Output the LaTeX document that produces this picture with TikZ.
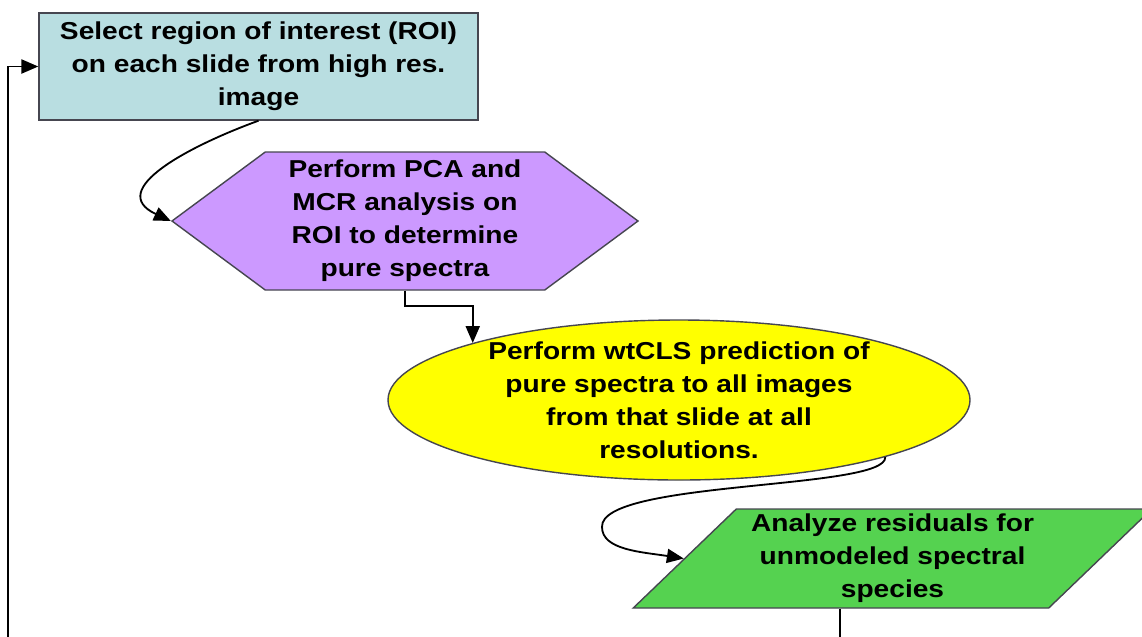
\documentclass[tikz,border=0pt]{standalone}
\usepackage{fontspec}
\newfontfamily\flowfont[FakeStretch=1.15]{Liberation Sans}
\usepackage{tikz}
\usetikzlibrary{arrows.meta,shapes.geometric,shapes.symbols,positioning}
\definecolor{roiblue}{RGB}{185,222,225}
\definecolor{pcapurple}{RGB}{204,153,255}
\definecolor{clsyellow}{RGB}{255,255,0}
\definecolor{resgreen}{RGB}{85,210,80}
\definecolor{rimgray}{RGB}{70,70,80}

\begin{document}
\begin{tikzpicture}[
	txt/.style={font=\flowfont\bfseries\fontsize{17.4pt}{23.5pt}\selectfont, align=center, text=black},
	box/.style={draw=rimgray, line width=1pt, inner sep=0pt},
	link/.style={line width=1.3pt, -{Triangle[length=12pt,width=10pt]}}]
	\useasboundingbox (0,0) rectangle (28.55,-15.9);
	\node[box, txt, fill=roiblue, minimum width=10.975cm, minimum height=2.675cm] (roi) at (6.4625,-1.6625)
		{Select region of interest (ROI)\\on each slide from high res.\\image};
	\node[box, fill=pcapurple, signal, signal to=west and east, signal pointer angle=73,
		minimum width=11.65cm, minimum height=3.45cm,
		label={[txt]center:{Perform PCA and\\MCR analysis on\\ROI to determine\\pure spectra}}] (pca) at (10.125,-5.525) {};
	\node[box, fill=clsyellow, ellipse, minimum width=14.55cm, minimum height=4cm,
		label={[txt]center:{Perform wtCLS prediction of\\pure spectra to all images\\from that slide at all\\resolutions.}}] (wtcls) at (16.975,-10) {};
	\node[box, txt, fill=resgreen, trapezium, trapezium left angle=43.6, trapezium right angle=136.4,
		trapezium stretches=true, minimum width=12.975cm, minimum height=2.475cm] (resid) at (22.3125,-13.9625)
		{Analyze residuals for\\unmodeled spectral\\species};
	\coordinate (swing) at (15.05,-13.175);
	\coordinate (back) at (0.2,-16.6);
	\draw[link] (roi.south) to[out=200,in=155,looseness=1.4] (pca.west);
	\draw[link] (pca.south) -- ++(0,-0.375) -| (wtcls.north west);
	\draw[link] (wtcls.south east) .. controls +(0.05,-0.825) and +(-0.05,1.175) .. (swing)
		.. controls +(0,-0.575) and +(-1.05,0.1625) .. (resid.left side);
	\draw[link] (resid.bottom side) |- (back) |- (roi.west);
\end{tikzpicture}
\end{document}
